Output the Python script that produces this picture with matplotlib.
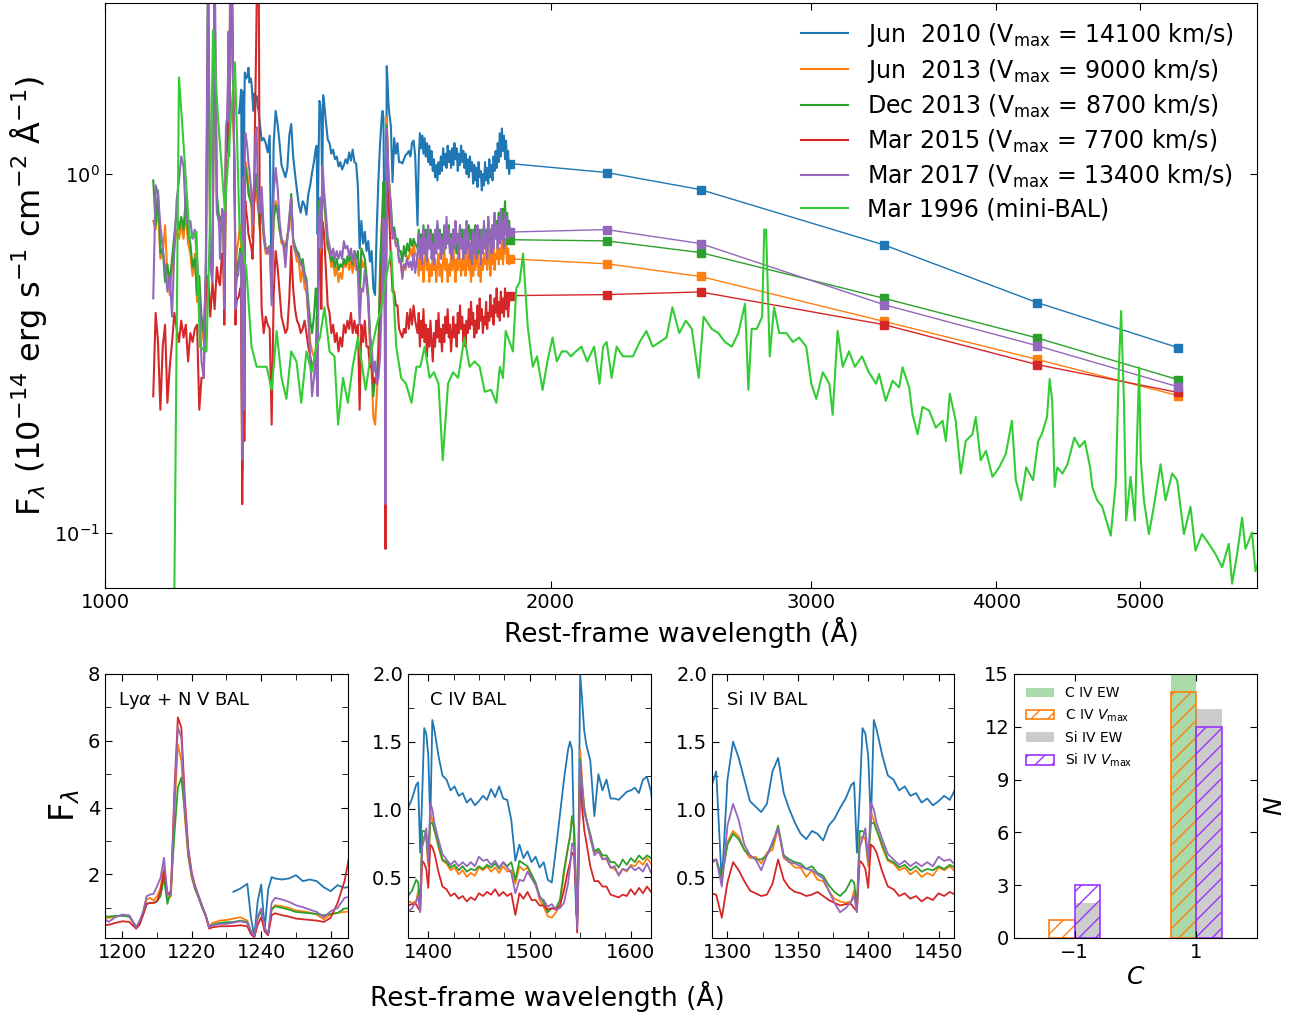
import numpy as np
import matplotlib.pyplot as plt
from matplotlib.ticker import MultipleLocator, NullLocator

# rest-frame wavelength grid shared by the five epochs (A)
wave = [
    # 1078-1194
    1078, 1082, 1086, 1090, 1094, 1098, 1102, 1106, 1110, 1114,
    1118, 1122, 1126, 1130, 1134, 1138, 1142, 1146, 1150, 1154,
    1158, 1162, 1166, 1170, 1174, 1178, 1182, 1186, 1190, 1194,
    # Lya + N V
    1196, 1198, 1200, 1202, 1204, 1205, 1206, 1207, 1208, 1209,
    1210, 1211, 1212, 1213, 1214, 1215, 1216, 1217, 1218, 1219,
    1220, 1221, 1222, 1223, 1224, 1225, 1226, 1228, 1230, 1232,
    1234, 1236, 1237, 1238, 1239, 1240, 1241, 1242, 1243, 1244,
    1246, 1248, 1250, 1252, 1254, 1256, 1258, 1260, 1262, 1264,
    1266, 1268, 1270, 1272, 1276, 1280, 1284, 1288,
    # Si IV
    1292, 1296, 1300, 1304, 1308, 1312, 1316, 1320, 1324, 1328,
    1332, 1336, 1340, 1344, 1348, 1352, 1356, 1360, 1364, 1368,
    1372, 1376, 1380, 1384, 1388,
    1390, 1392, 1394, 1396, 1398, 1400, 1402, 1404, 1406,
    # C IV
    1410, 1414, 1418, 1422, 1426, 1430, 1434, 1438, 1442, 1446,
    1450, 1454, 1458, 1462, 1466, 1470, 1474, 1478, 1482, 1486,
    1490, 1494, 1498, 1502, 1506, 1510, 1514, 1518, 1522, 1526,
    1530, 1534, 1538,
    1540, 1542, 1544, 1546, 1547, 1548, 1550, 1552, 1554, 1556,
    1560, 1564, 1568, 1572, 1576, 1580, 1584, 1588, 1592, 1596,
    1600, 1604, 1608, 1612, 1616, 1620,
    # red end
    1626, 1629, 1632, 1635, 1638, 1641, 1644, 1647, 1650, 1653,
    1656, 1659, 1662, 1665, 1668, 1671, 1674, 1677, 1680, 1683,
    1686, 1689, 1692, 1695, 1698, 1701, 1704, 1707, 1710, 1713,
    1716, 1719, 1722, 1725, 1728, 1731, 1734, 1737, 1740, 1743,
    1746, 1749, 1752, 1755, 1758, 1761, 1764, 1767, 1770, 1773,
    1776, 1779, 1782, 1785, 1788, 1791, 1794, 1797, 1800, 1803,
    1806, 1809, 1812, 1815, 1818, 1821, 1824, 1827, 1830, 1833,
    1836, 1839, 1842, 1845, 1848, 1851, 1854, 1857, 1860, 1863,
    1866, 1869, 1872, 1875, 1878,
]

# Jun 2010 starts at 1232 A (last values of the grid)
flux_jun2010 = [
    1.48, 1.58, 1.72, 0.75, 0.15, 1.20, 1.70, 0.35, 1.55, 1.92,
    1.88, 1.85, 1.88, 1.98, 1.80, 1.85, 1.80, 1.62, 1.50, 1.68, 1.60,
    1.65, 1.55, 1.50, 1.40, 1.24, 1.26, 1.22, 1.15,
    1.28, 0.45, 1.22, 1.50, 1.38, 1.22, 1.06, 1.02, 0.98, 1.04,
    1.28, 1.38, 1.12, 1.00, 0.90, 0.82, 0.78, 0.84, 0.82, 0.77,
    0.88, 0.93, 1.01, 1.08, 1.18,
    1.20, 0.68, 1.10, 1.60, 1.56, 1.40, 0.90, 1.66, 1.59,
    1.40, 1.25, 1.22, 1.14, 1.17, 1.10, 1.12, 1.05, 1.08, 1.03,
    1.06, 1.10, 1.07, 1.15, 1.09, 1.17, 1.08, 1.07, 0.92, 0.62,
    0.74, 0.64, 0.69, 0.61, 0.65, 0.57, 0.61, 0.48, 0.46, 0.70,
    0.96, 1.22, 1.44,
    1.50, 1.44, 0.75, 0.24, 0.18, 0.45, 2.00, 1.80, 1.58, 1.48,
    1.36, 0.95, 1.26, 1.14, 1.22, 1.08, 1.08, 1.07, 1.10, 1.13,
    1.14, 1.16, 1.12, 1.22, 1.24, 1.13,
    0.72, 1.10, 1.30, 1.18, 1.28, 1.14, 1.26, 1.12, 1.22, 1.08,
    1.20, 1.06, 1.16, 1.02, 1.10, 0.98, 1.06, 0.96, 1.08, 1.00,
    1.12, 1.02, 1.18, 1.06, 1.14, 1.04, 1.20, 1.08, 1.16, 1.04,
    1.18, 1.06, 1.22, 1.10, 1.18, 1.02, 1.14, 1.06, 1.20, 1.08,
    1.16, 1.04, 1.14, 1.00, 1.10, 0.98, 1.12, 1.02, 1.08, 0.94,
    1.06, 0.96, 1.04, 0.92, 1.08, 0.98, 1.02, 0.90, 1.00, 0.93,
    1.08, 0.96, 1.04, 0.94, 1.10, 0.98, 1.06, 0.96, 1.12, 1.02,
    1.16, 1.04, 1.22, 1.08, 1.30, 1.12, 1.34, 1.16, 1.28, 1.10,
    1.24, 1.06, 1.16, 1.00, 1.07,
]

flux_jun2013 = [
    0.74, 0.70, 0.82, 0.58, 0.60, 0.72, 0.52, 0.46, 0.55, 0.62,
    0.70, 0.66, 0.72, 0.66, 0.78, 0.64, 0.60, 0.52, 0.60, 0.44,
    0.48, 0.38, 0.34, 0.50, 3.40, 0.56, 0.52, 3.00, 0.82, 0.72,
    0.70, 0.74, 0.78, 0.74, 0.42, 0.55, 0.85, 1.25, 1.30, 1.22,
    1.35, 1.60, 2.25, 1.25, 1.35, 3.80, 5.90, 5.40, 3.70, 2.50,
    1.90, 1.55, 1.30, 1.02, 0.78, 0.45, 0.55, 0.62, 0.64, 0.68,
    0.72, 0.62, 0.30, 0.14, 0.72, 0.92, 0.38, 0.20, 0.95, 1.08,
    1.05, 1.00, 0.92, 0.90, 0.86, 0.80, 0.66, 0.80, 0.85, 0.88,
    0.90, 0.82, 0.78, 0.70, 0.80, 0.66, 0.60, 0.60,
    0.63, 0.48, 0.76, 0.84, 0.80, 0.70, 0.64, 0.65, 0.60, 0.68,
    0.70, 0.86, 0.64, 0.61, 0.57, 0.57, 0.50, 0.55, 0.48, 0.47,
    0.40, 0.34, 0.32, 0.31, 0.32,
    0.40, 0.27, 0.78, 0.80, 0.78, 0.58, 0.98, 0.92, 0.85,
    0.72, 0.62, 0.60, 0.55, 0.57, 0.52, 0.55, 0.50, 0.53, 0.51,
    0.57, 0.55, 0.58, 0.54, 0.57, 0.53, 0.58, 0.54, 0.55, 0.45,
    0.58, 0.55, 0.57, 0.50, 0.45, 0.33, 0.28, 0.21, 0.20, 0.24,
    0.29, 0.52, 0.72,
    0.80, 0.95, 0.88, 0.40, 0.14, 0.50, 1.44, 1.20, 1.02, 0.94,
    0.78, 0.68, 0.70, 0.64, 0.63, 0.57, 0.56, 0.52, 0.56, 0.54,
    0.59, 0.58, 0.62, 0.59, 0.64, 0.60,
    0.58, 0.52, 0.60, 0.54, 0.58, 0.50, 0.56, 0.62, 0.54, 0.58,
    0.50, 0.56, 0.52, 0.60, 0.54, 0.58, 0.50, 0.56, 0.60, 0.52,
    0.56, 0.50, 0.58, 0.62, 0.54, 0.58, 0.50, 0.56, 0.52, 0.60,
    0.54, 0.62, 0.56, 0.50, 0.58, 0.54, 0.64, 0.56, 0.52, 0.58,
    0.54, 0.60, 0.52, 0.56, 0.62, 0.54, 0.58, 0.50, 0.56, 0.52,
    0.60, 0.54, 0.58, 0.62, 0.52, 0.56, 0.50, 0.58, 0.54, 0.60,
    0.56, 0.62, 0.54, 0.58, 0.64, 0.52, 0.60, 0.56, 0.62, 0.54,
    0.60, 0.58, 0.64, 0.56, 0.62, 0.58, 0.66, 0.56, 0.62, 0.60,
    0.66, 0.58, 0.62, 0.56, 0.58,
]

flux_dec2013 = [
    0.96, 0.72, 0.90, 0.60, 0.62, 0.50, 0.56, 0.50, 0.58, 0.68,
    0.78, 0.70, 0.76, 0.70, 0.86, 0.68, 0.64, 0.55, 0.58, 0.46,
    0.52, 0.40, 0.36, 0.52, 3.60, 0.60, 0.55, 3.20, 0.88, 0.76,
    0.74, 0.76, 0.76, 0.74, 0.44, 0.55, 0.80, 1.12, 1.15, 1.15,
    1.20, 1.35, 1.90, 1.12, 1.55, 3.20, 4.60, 4.90, 3.90, 2.60,
    1.95, 1.55, 1.30, 1.00, 0.76, 0.42, 0.50, 0.55, 0.57, 0.58,
    0.62, 0.58, 0.32, 0.15, 0.70, 0.90, 0.38, 0.22, 0.95, 1.05,
    1.00, 0.95, 0.88, 0.86, 0.84, 0.82, 0.78, 0.82, 0.85, 0.98,
    1.00, 0.88, 0.80, 0.72, 0.85, 0.68, 0.62, 0.62,
    0.63, 0.50, 0.74, 0.82, 0.78, 0.70, 0.66, 0.63, 0.63, 0.66,
    0.74, 0.88, 0.66, 0.63, 0.61, 0.60, 0.56, 0.58, 0.53, 0.51,
    0.44, 0.39, 0.36, 0.40, 0.48,
    0.46, 0.28, 0.84, 0.84, 0.82, 0.62, 0.90, 0.90, 0.85,
    0.74, 0.63, 0.61, 0.57, 0.59, 0.55, 0.58, 0.54, 0.56, 0.55,
    0.58, 0.56, 0.59, 0.57, 0.60, 0.56, 0.61, 0.58, 0.61, 0.48,
    0.62, 0.60, 0.58, 0.52, 0.46, 0.36, 0.31, 0.24, 0.27, 0.27,
    0.33, 0.55, 0.72,
    0.80, 0.95, 0.86, 0.40, 0.14, 0.48, 1.37, 1.17, 1.00, 0.93,
    0.82, 0.69, 0.71, 0.66, 0.66, 0.61, 0.61, 0.57, 0.63, 0.59,
    0.64, 0.61, 0.66, 0.63, 0.66, 0.64,
    0.62, 0.70, 0.60, 0.68, 0.62, 0.72, 0.64, 0.70, 0.60, 0.66,
    0.62, 0.70, 0.64, 0.68, 0.60, 0.66, 0.62, 0.72, 0.64, 0.70,
    0.62, 0.68, 0.60, 0.66, 0.62, 0.70, 0.64, 0.72, 0.62, 0.68,
    0.64, 0.70, 0.62, 0.66, 0.60, 0.68, 0.64, 0.72, 0.62, 0.70,
    0.64, 0.68, 0.60, 0.70, 0.62, 0.72, 0.66, 0.70, 0.62, 0.68,
    0.64, 0.72, 0.62, 0.68, 0.60, 0.70, 0.64, 0.68, 0.62, 0.72,
    0.64, 0.70, 0.62, 0.74, 0.66, 0.70, 0.64, 0.72, 0.66, 0.76,
    0.68, 0.74, 0.66, 0.78, 0.70, 0.76, 0.68, 0.80, 0.72, 0.84,
    0.70, 0.78, 0.68, 0.74, 0.66,
]

flux_mar2015 = [
    0.24, 0.41, 0.34, 0.22, 0.33, 0.38, 0.23, 0.29, 0.34, 0.41,
    0.37, 0.34, 0.39, 0.35, 0.38, 0.30, 0.36, 0.34, 0.37, 0.38,
    0.22, 0.27, 0.27, 0.46, 0.52, 0.40, 0.50, 0.42, 0.55, 0.50,
    0.49, 0.55, 0.60, 0.58, 0.38, 0.50, 0.80, 1.12, 1.15, 1.15,
    1.20, 1.50, 2.10, 1.40, 1.50, 4.50, 6.70, 6.40, 4.30, 2.80,
    2.05, 1.65, 1.35, 1.05, 0.78, 0.38, 0.42, 0.45, 0.45, 0.46,
    0.48, 0.45, 0.22, 0.12, 0.50, 0.72, 0.30, 0.18, 0.78, 0.84,
    0.78, 0.74, 0.68, 0.66, 0.64, 0.62, 0.58, 0.70, 1.15, 1.80,
    2.90, 4.50, 4.00, 0.80, 0.42, 0.36, 0.40, 0.38,
    0.37, 0.20, 0.46, 0.61, 0.55, 0.47, 0.40, 0.38, 0.36, 0.37,
    0.45, 0.63, 0.48, 0.42, 0.39, 0.38, 0.36, 0.37, 0.39, 0.36,
    0.33, 0.31, 0.29, 0.30, 0.30,
    0.27, 0.25, 0.62, 0.60, 0.56, 0.42, 0.74, 0.72, 0.68,
    0.54, 0.43, 0.41, 0.36, 0.38, 0.34, 0.36, 0.32, 0.35, 0.33,
    0.38, 0.36, 0.39, 0.37, 0.41, 0.36, 0.39, 0.36, 0.38, 0.22,
    0.38, 0.34, 0.39, 0.33, 0.33, 0.29, 0.29, 0.26, 0.27, 0.26,
    0.29, 0.40, 0.55,
    0.61, 0.68, 0.66, 0.35, 0.09, 0.40, 1.29, 1.00, 0.85, 0.76,
    0.58, 0.47, 0.47, 0.43, 0.43, 0.37, 0.36, 0.35, 0.37, 0.36,
    0.41, 0.37, 0.42, 0.38, 0.43, 0.39,
    0.36, 0.41, 0.33, 0.39, 0.35, 0.42, 0.34, 0.38, 0.31, 0.37,
    0.33, 0.39, 0.34, 0.30, 0.36, 0.33, 0.39, 0.35, 0.41, 0.34,
    0.37, 0.32, 0.38, 0.34, 0.40, 0.36, 0.42, 0.35, 0.38, 0.32,
    0.36, 0.40, 0.35, 0.38, 0.33, 0.41, 0.36, 0.43, 0.37, 0.40,
    0.34, 0.38, 0.33, 0.39, 0.36, 0.42, 0.37, 0.44, 0.38, 0.41,
    0.35, 0.39, 0.36, 0.43, 0.37, 0.45, 0.39, 0.42, 0.36, 0.40,
    0.38, 0.44, 0.37, 0.41, 0.39, 0.46, 0.40, 0.43, 0.38, 0.45,
    0.41, 0.48, 0.40, 0.44, 0.39, 0.47, 0.41, 0.45, 0.40, 0.48,
    0.42, 0.46, 0.40, 0.44, 0.46,
]

flux_mar2017 = [
    0.45, 0.93, 0.88, 0.72, 0.62, 0.55, 0.47, 0.52, 0.40, 0.62,
    0.85, 0.96, 1.12, 1.05, 0.76, 0.72, 0.74, 0.66, 0.70, 0.58,
    0.46, 0.30, 0.27, 0.62, 4.50, 0.55, 0.50, 4.50, 0.78, 0.74,
    0.58, 0.72, 0.80, 0.78, 0.42, 0.62, 0.90, 1.35, 1.40, 1.42,
    1.65, 1.90, 2.50, 1.40, 1.40, 4.20, 6.40, 6.10, 4.00, 2.70,
    2.00, 1.60, 1.35, 1.05, 0.80, 0.42, 0.48, 0.52, 0.52, 0.56,
    0.60, 0.55, 0.30, 0.16, 0.75, 0.98, 0.40, 0.22, 1.15, 1.30,
    1.25, 1.18, 1.08, 1.02, 0.95, 0.88, 0.72, 0.90, 1.00, 1.30,
    1.35, 0.95, 0.85, 0.78, 0.92, 0.70, 0.62, 0.60,
    0.63, 0.43, 0.88, 1.04, 0.92, 0.74, 0.66, 0.63, 0.55, 0.66,
    0.76, 0.86, 0.65, 0.61, 0.60, 0.58, 0.56, 0.55, 0.52, 0.49,
    0.40, 0.31, 0.24, 0.27, 0.32,
    0.36, 0.24, 0.72, 0.78, 0.86, 0.62, 1.05, 1.00, 0.90,
    0.78, 0.67, 0.63, 0.59, 0.62, 0.58, 0.61, 0.58, 0.61, 0.58,
    0.65, 0.62, 0.63, 0.59, 0.62, 0.57, 0.61, 0.57, 0.53, 0.38,
    0.48, 0.47, 0.54, 0.49, 0.44, 0.35, 0.33, 0.28, 0.30, 0.26,
    0.27, 0.31, 0.45,
    0.58, 0.75, 0.72, 0.40, 0.12, 0.44, 1.34, 1.15, 0.98, 0.92,
    0.80, 0.66, 0.69, 0.63, 0.64, 0.57, 0.58, 0.51, 0.56, 0.55,
    0.58, 0.55, 0.57, 0.54, 0.60, 0.53,
    0.60, 0.68, 0.58, 0.66, 0.56, 0.70, 0.60, 0.66, 0.57, 0.72,
    0.62, 0.68, 0.58, 0.64, 0.56, 0.70, 0.60, 0.74, 0.62, 0.68,
    0.58, 0.66, 0.60, 0.72, 0.62, 0.76, 0.64, 0.70, 0.60, 0.66,
    0.58, 0.70, 0.62, 0.74, 0.64, 0.68, 0.58, 0.72, 0.62, 0.66,
    0.58, 0.70, 0.60, 0.74, 0.62, 0.68, 0.58, 0.64, 0.56, 0.70,
    0.60, 0.68, 0.58, 0.72, 0.62, 0.66, 0.56, 0.70, 0.60, 0.74,
    0.62, 0.68, 0.58, 0.76, 0.64, 0.70, 0.60, 0.72, 0.62, 0.78,
    0.66, 0.72, 0.62, 0.76, 0.64, 0.80, 0.66, 0.74, 0.62, 0.78,
    0.68, 0.76, 0.66, 0.72, 0.69,
]

# Mar 1996 mini-BAL spectrum
wave_1996 = [
    1111, 1122, 1129, 1141, 1153, 1159, 1171, 1177, 1183, 1192,
    1205, 1214, 1224, 1233, 1246, 1256, 1266, 1276, 1286, 1296,
    1306, 1316, 1326, 1336, 1347, 1357, 1368, 1379, 1389, 1397,
    1407, 1418, 1429, 1437, 1448, 1459, 1470, 1482, 1494, 1500,
    1513, 1525, 1537, 1549, 1561, 1573, 1585, 1597, 1611, 1623,
    1633, 1644, 1657, 1668, 1680, 1691, 1705, 1718, 1732, 1749,
    1763, 1777, 1791, 1805, 1823, 1838, 1848, 1857, 1865, 1886,
    1896, 1906, 1916, 1930, 1945, 1958, 1975, 1990, 2006, 2019,
    2035, 2050, 2064, 2080, 2098, 2117, 2140, 2158, 2170, 2182,
    2199, 2216, 2238, 2255, 2273, 2297, 2321, 2344, 2370, 2395,
    2417, 2443, 2468, 2491, 2518, 2537, 2569, 2596, 2623, 2651,
    2678, 2706, 2720, 2734, 2756, 2779, 2788, 2796, 2812, 2831,
    2854, 2886, 2915, 2943, 2976, 3000, 3023, 3054, 3085, 3101,
    3125, 3150, 3181, 3210, 3246, 3280, 3318, 3333, 3368, 3404,
    3439, 3457, 3493, 3511, 3539, 3566, 3603, 3641, 3679, 3698,
    3721, 3755, 3785, 3814, 3854, 3874, 3904, 3936, 3976, 4018,
    4060, 4098, 4123, 4157, 4190, 4235, 4269, 4293, 4328, 4346,
    4363, 4380, 4398, 4433, 4468, 4516, 4553, 4590, 4628, 4644,
    4679, 4716, 4753, 4779, 4816, 4840, 4857, 4878, 4895, 4929,
    4962, 4980, 4995, 5008, 5032, 5071, 5110, 5164, 5204, 5258,
    5299, 5327, 5355, 5410, 5452, 5508, 5567, 5625, 5683, 5742,
    5772, 5817, 5862, 5893, 5954, 5985, 6050,
]
flux_1996 = [
    0.02, 1.86, 1.28, 0.66, 0.69, 0.33, 0.32, 0.69, 2.52, 1.45,
    0.79, 1.28, 2.05, 0.69, 0.54, 0.33, 0.29, 0.29, 0.29, 0.25,
    0.365, 0.27, 0.236, 0.32, 0.30, 0.23, 0.32, 0.28, 0.33, 0.35,
    0.425, 0.32, 0.31, 0.20, 0.27, 0.23, 0.29, 0.35, 0.28, 0.25,
    0.32, 0.375, 0.425, 0.52, 0.61, 0.33, 0.27, 0.26, 0.23, 0.29,
    0.29, 0.33, 0.27, 0.28, 0.26, 0.159, 0.26, 0.28, 0.27, 0.35,
    0.29, 0.30, 0.29, 0.247, 0.25, 0.23, 0.29, 0.27, 0.365, 0.32,
    0.48, 0.50, 0.60, 0.375, 0.29, 0.31, 0.25, 0.30, 0.35, 0.30,
    0.32, 0.32, 0.31, 0.32, 0.33, 0.30, 0.33, 0.26, 0.33, 0.34,
    0.27, 0.33, 0.31, 0.31, 0.31, 0.34, 0.365, 0.33, 0.34, 0.35,
    0.425, 0.36, 0.39, 0.37, 0.27, 0.40, 0.37, 0.36, 0.34, 0.33,
    0.36, 0.435, 0.25, 0.37, 0.37, 0.40, 0.70, 0.70, 0.31, 0.425,
    0.36, 0.36, 0.34, 0.35, 0.33, 0.26, 0.236, 0.28, 0.26, 0.213,
    0.365, 0.29, 0.32, 0.29, 0.31, 0.28, 0.26, 0.277, 0.233, 0.265,
    0.254, 0.289, 0.254, 0.214, 0.188, 0.224, 0.219, 0.196, 0.205, 0.18,
    0.244, 0.205, 0.146, 0.18, 0.188, 0.21, 0.159, 0.169, 0.143, 0.152,
    0.166, 0.205, 0.14, 0.123, 0.152, 0.14, 0.18, 0.188, 0.21, 0.268,
    0.233, 0.134, 0.152, 0.146, 0.155, 0.184, 0.173, 0.18, 0.152, 0.134,
    0.123, 0.118, 0.106, 0.098, 0.137, 0.289, 0.415, 0.233, 0.108, 0.143,
    0.108, 0.188, 0.289, 0.159, 0.123, 0.099, 0.118, 0.155, 0.123, 0.146,
    0.14, 0.118, 0.099, 0.118, 0.089, 0.099, 0.093, 0.087, 0.08, 0.093,
    0.072, 0.087, 0.11, 0.09, 0.10, 0.078, 0.09,
]

# photometric points (rest frame)
phot_wave = [1877, 2182, 2525, 3360, 4262, 5305]
phot_jun2010 = [1.07, 1.01, 0.905, 0.634, 0.438, 0.328]
phot_jun2013 = [0.580, 0.562, 0.518, 0.388, 0.304, 0.241]
phot_dec2013 = [0.656, 0.651, 0.604, 0.450, 0.349, 0.267]
phot_mar2015 = [0.458, 0.461, 0.469, 0.380, 0.294, 0.246]
phot_mar2017 = [0.689, 0.700, 0.640, 0.432, 0.332, 0.255]

labels = [r'Jun  2010 (V$_{\rm max}$ = 14100 km/s)',
          r'Jun  2013 (V$_{\rm max}$ = 9000 km/s)',
          r'Dec 2013 (V$_{\rm max}$ = 8700 km/s)',
          r'Mar 2015 (V$_{\rm max}$ = 7700 km/s)',
          r'Mar 2017 (V$_{\rm max}$ = 13400 km/s)']
colors = ['C0', 'C1', 'C2', 'C3', 'C4']

# correlation sign histogram
corr_sign = [-1, 1]
civ_ew = [0, 15]
civ_vmax = [1, 14]
siiv_ew = [2, 13]
siiv_vmax = [3, 12]

spectra = [flux_jun2010, flux_jun2013, flux_dec2013, flux_mar2015, flux_mar2017]
phots = [phot_jun2010, phot_jun2013, phot_dec2013, phot_mar2015, phot_mar2017]
w = np.array(wave)

fig = plt.figure(figsize=(12.99, 10.17), dpi=100)

# ---- top panel ----
ax = fig.add_axes([0.0808, 0.4218, 0.8869, 0.5752])
for f, p, c, lab in zip(spectra, phots, colors, labels):
    ax.plot(w[len(w) - len(f):], f, color=c, lw=1.5, label=lab)
    ax.plot(phot_wave, p, color=c, lw=1.0, marker='s', ms=6)
ax.plot(wave_1996, flux_1996, color='limegreen', lw=1.5, label='Mar 1996 (mini-BAL)')
ax.set_xscale('log')
ax.set_yscale('log')
ax.set_xlim(1000, 6000)
ax.set_ylim(0.07, 3.0)
ax.set_xticks([1000, 2000, 3000, 4000, 5000], labels=['1000', '2000', '3000', '4000', '5000'])
ax.xaxis.set_minor_locator(NullLocator())
ax.yaxis.set_minor_locator(NullLocator())
ax.tick_params(which='both', direction='in', top=True, right=True, labelsize=14, length=5)
ax.set_xlabel('Rest-frame wavelength (Å)', fontsize=19)
ax.set_ylabel(r'F$_\lambda$ (10$^{-14}$ erg s$^{-1}$ cm$^{-2}$ Å$^{-1}$)', fontsize=23)
ax.legend(loc='upper right', bbox_to_anchor=(0.9948, 1.0), frameon=False, fontsize=17,
          labelspacing=0.33, borderaxespad=0.35)

# ---- zoomed BAL panels ----
bottom, height = 0.0777, 0.2596
ax1 = fig.add_axes([0.0808, bottom, 0.1871, height])
ax2 = fig.add_axes([0.3141, bottom, 0.1871, height])
ax3 = fig.add_axes([0.5481, bottom, 0.1863, height])
for a in (ax1, ax2, ax3):
    for f, c in zip(spectra, colors):
        a.plot(w[len(w) - len(f):], f, color=c, lw=1.3)
    a.tick_params(which='both', direction='in', top=True, right=True, labelsize=14)
    a.tick_params(which='major', length=5)
    a.tick_params(which='minor', length=4)

ax1.set_xlim(1195, 1265)
ax1.set_ylim(0.1, 8)
ax1.xaxis.set_major_locator(MultipleLocator(20))
ax1.xaxis.set_minor_locator(MultipleLocator(10))
ax1.yaxis.set_major_locator(MultipleLocator(2))
ax1.yaxis.set_minor_locator(MultipleLocator(1))
ax1.set_ylabel(r'F$_\lambda$', fontsize=24)
ax1.text(0.053, 0.9, r'Ly$\alpha$ + N V BAL', transform=ax1.transAxes, fontsize=13, va='center')

ax2.set_xlim(1380, 1620)
ax2.set_ylim(0.05, 2.0)
ax2.xaxis.set_major_locator(MultipleLocator(100))
ax2.xaxis.set_minor_locator(MultipleLocator(25))
ax2.text(0.09, 0.9, 'C IV BAL', transform=ax2.transAxes, fontsize=13, va='center')

ax3.set_xlim(1289, 1461)
ax3.set_ylim(0.05, 2.0)
ax3.xaxis.set_major_locator(MultipleLocator(50))
ax3.xaxis.set_minor_locator(MultipleLocator(25))
ax3.text(0.062, 0.9, 'Si IV BAL', transform=ax3.transAxes, fontsize=13, va='center')
for a in (ax2, ax3):
    a.yaxis.set_major_locator(MultipleLocator(0.5))
    a.yaxis.set_minor_locator(MultipleLocator(0.25))

fig.text(0.421, 0.0197, 'Rest-frame wavelength (Å)', ha='center', va='center', fontsize=19)

# ---- histogram of correlation sign ----
ax4 = fig.add_axes([0.7806, bottom, 0.1871, height])
x = np.array(corr_sign)
bw = 0.42
ax4.bar(x - bw / 2, civ_ew, bw, color='C2', alpha=0.4, lw=0, label='C IV EW')
ax4.bar(x - bw / 2, civ_vmax, bw, fill=False, hatch='//', edgecolor='C1', lw=1.2,
        label=r'C IV $V_{\rm max}$')
ax4.bar(x + bw / 2, siiv_ew, bw, color='gray', alpha=0.4, lw=0, label='Si IV EW')
ax4.bar(x + bw / 2, siiv_vmax, bw, fill=False, hatch='//', edgecolor='#9933ff', lw=1.2,
        label=r'Si IV $V_{\rm max}$')
ax4.set_xlim(-2, 2)
ax4.set_ylim(0, 15)
ax4.set_xticks([-1, 1])
ax4.set_yticks([0, 3, 6, 9, 12, 15])
ax4.tick_params(direction='in', top=True, right=True, labelsize=14, length=5)
ax4.set_xlabel('$C$', fontsize=18, labelpad=2)
ax4.yaxis.set_label_position('right')
ax4.set_ylabel('$N$', fontsize=18, labelpad=4)
ax4.legend(loc='upper left', frameon=False, fontsize=10)

fig.savefig('out.png', dpi=100)
